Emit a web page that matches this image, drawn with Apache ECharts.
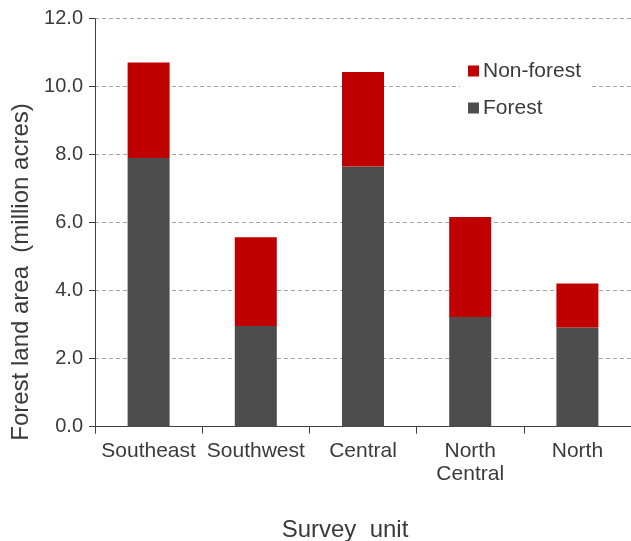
<!DOCTYPE html>
<html>
<head>
<meta charset="utf-8">
<script src="https://cdn.jsdelivr.net/npm/echarts@6/dist/echarts.min.js"></script>
<style>
  html, body { margin: 0; padding: 0; background: #ffffff; }
  #chart { width: 631px; height: 541px; }
</style>
</head>
<body>
<div id="chart"></div>
<script>
// Forest land area by survey unit (million acres)
var categories = ['Southeast', 'Southwest', 'Central', 'North\nCentral', 'North'];
var forest = [7.90, 2.96, 7.65, 3.23, 2.92];
var nonForest = [2.81, 2.61, 2.78, 2.94, 1.29];
var yTicks = [0, 2, 4, 6, 8, 10, 12];

var FONT = '"Liberation Sans", Arial, sans-serif';
var TEXT = '#3a3a3a';

var chart = echarts.init(document.getElementById('chart'), null, { renderer: 'canvas' });

chart.setOption({
  animation: false,
  backgroundColor: '#ffffff',
  grid: { left: 95, top: 18.7, width: 538, height: 408 },
  legend: {
    data: ['Non-forest', 'Forest'],
    orient: 'vertical',
    left: 460,
    top: 55,
    padding: [5, 10, 5, 8],
    backgroundColor: '#ffffff',
    icon: 'rect',
    itemWidth: 11,
    itemHeight: 11,
    itemGap: 15,
    itemStyle: { borderWidth: 0 },
    textStyle: { fontFamily: FONT, fontSize: 21, color: TEXT, lineHeight: 22, padding: [0, 0, 0, -1] }
  },
  xAxis: {
    type: 'category',
    data: categories,
    axisLine: { lineStyle: { color: '#404040', width: 1 } },
    axisTick: { show: true, alignWithLabel: false, length: 7, lineStyle: { color: '#404040' } },
    axisLabel: { fontFamily: FONT, fontSize: 21, color: TEXT, margin: 13, lineHeight: 23, interval: 0 },
    splitLine: { show: false }
  },
  yAxis: {
    type: 'value',
    min: yTicks[0],
    max: yTicks[yTicks.length - 1],
    interval: yTicks[1] - yTicks[0],
    axisLine: { show: true, lineStyle: { color: '#404040', width: 1 } },
    axisTick: { show: true, inside: false, length: 6, lineStyle: { color: '#404040' } },
    axisLabel: {
      fontFamily: FONT, fontSize: 20, color: TEXT, margin: 12,
      formatter: function (v) { return v.toFixed(1); }
    },
    splitLine: { show: true, lineStyle: { color: '#a6a6a6', type: [4, 3], width: 1 } }
  },
  series: [
    {
      name: 'Forest',
      type: 'bar',
      stack: 'area',
      data: forest,
      barWidth: 42,
      itemStyle: { color: '#4d4d4d' }
    },
    {
      name: 'Non-forest',
      type: 'bar',
      stack: 'area',
      data: nonForest,
      barWidth: 42,
      itemStyle: { color: '#c00000' }
    }
  ],
  graphic: [
    {
      type: 'text',
      x: 21,
      y: 272,
      rotation: Math.PI / 2,
      style: {
        text: 'Forest land area  (million acres)',
        fontFamily: FONT, fontSize: 24, fill: TEXT,
        align: 'center', verticalAlign: 'middle'
      }
    },
    {
      type: 'text',
      x: 345,
      y: 530,
      style: {
        text: 'Survey  unit',
        fontFamily: FONT, fontSize: 24, fill: TEXT,
        align: 'center', verticalAlign: 'middle'
      }
    }
  ]
});
</script>
</body>
</html>
